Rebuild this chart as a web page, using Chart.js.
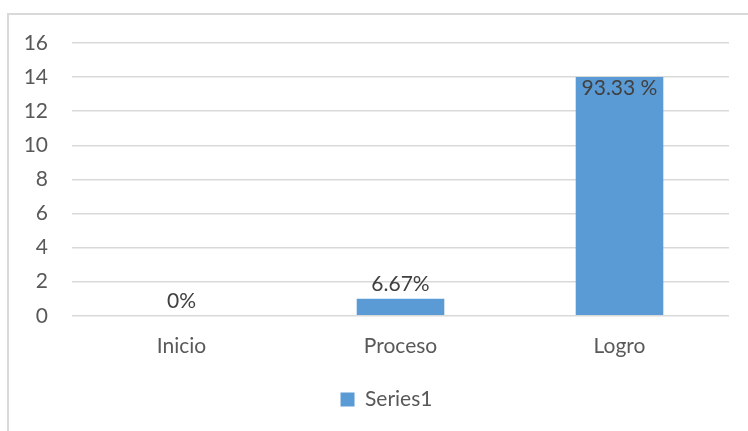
<!DOCTYPE html>
<html lang="es">
<head>
<meta charset="UTF-8">
<title>Series1</title>
<script src="https://cdn.jsdelivr.net/npm/chart.js@4.4.0/dist/chart.umd.min.js"></script>
<style>
    html, body { margin: 0; padding: 0; background: #fff; }
    #wrap { position: relative; width: 748px; height: 431px; overflow: hidden; }
    #frame { position: absolute; left: 7px; top: 13px; width: 800px; height: 500px; border: 2px solid #d9d9d9; box-sizing: border-box; }
    canvas { position: absolute; left: 0; top: 0; }
</style>
</head>
<body>
<div id="wrap">
    <div id="frame"></div>
    <canvas id="chart" width="748" height="431"></canvas>
</div>
<script>
    // data
    const categories = ['Inicio', 'Proceso', 'Logro'];
    const values = [0, 1, 14];
    const valueLabels = ['0%', '6.67%', '93.33 %'];
    const labelInside = [false, false, true];

    const FONT = 'Lato, "Open Sans", sans-serif';

    // simple data labels over the bars
    const barLabels = {
        id: 'barLabels',
        afterDatasetsDraw(chart) {
            const ctx = chart.ctx;
            const meta = chart.getDatasetMeta(0);
            ctx.save();
            ctx.font = '21px ' + FONT;
            ctx.fillStyle = '#404040';
            ctx.textAlign = 'center';
            meta.data.forEach((bar, i) => {
                if (labelInside[i]) {
                    ctx.textBaseline = 'top';
                    ctx.fillText(valueLabels[i], bar.x, bar.y + 1);
                } else {
                    ctx.textBaseline = 'bottom';
                    ctx.fillText(valueLabels[i], bar.x, bar.y - 4);
                }
            });
            ctx.restore();
        }
    };

    // nudge the legend a bit to the right, like in the original
    const legendShift = {
        id: 'legendShift',
        afterLayout(chart) {
            chart.legend.left += 22;
            chart.legend.right += 22;
        }
    };

    const ctx = document.getElementById('chart').getContext('2d');
    new Chart(ctx, {
        type: 'bar',
        data: {
            labels: categories,
            datasets: [{
                label: 'Series1',
                data: values,
                backgroundColor: '#5b9bd5',
                categoryPercentage: 1.0,
                barPercentage: 0.4
            }]
        },
        options: {
            responsive: false,
            animation: false,
            layout: { padding: { top: 43, right: 19, bottom: 11, left: 0 } },
            plugins: {
                legend: {
                    position: 'bottom',
                    labels: {
                        color: '#595959',
                        font: { family: FONT, size: 21 },
                        boxWidth: 14,
                        boxHeight: 14,
                        padding: 20
                    }
                },
                tooltip: { enabled: false }
            },
            scales: {
                x: {
                    grid: { display: false },
                    border: { display: false },
                    ticks: { color: '#595959', font: { family: FONT, size: 21 }, padding: 10 }
                },
                y: {
                    min: 0,
                    max: 16,
                    afterFit(scale) { scale.width = 72; },
                    grid: { color: '#d9d9d9', lineWidth: 1.5, drawTicks: false },
                    border: { display: false },
                    ticks: { stepSize: 2, color: '#595959', font: { family: FONT, size: 21 }, padding: 24 }
                }
            }
        },
        plugins: [barLabels, legendShift]
    });
</script>
</body>
</html>
